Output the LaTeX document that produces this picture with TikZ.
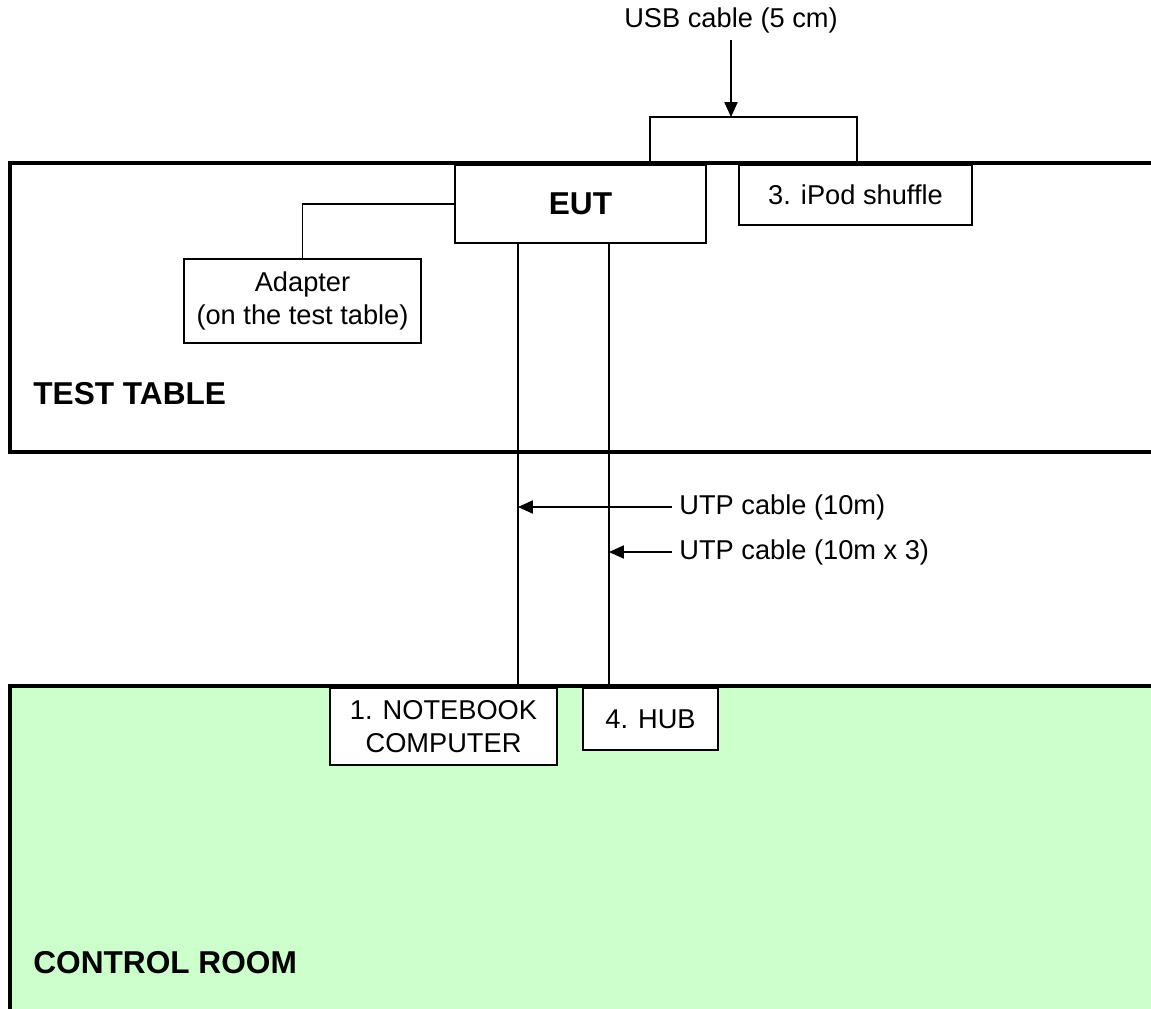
\documentclass[tikz,border=0pt]{standalone}
\usepackage{fontspec}
\setmainfont{Liberation Sans}
\usepackage{tikz}
\usetikzlibrary{arrows.meta, positioning, calc}
\usepackage{xcolor}
\definecolor{roomgreen}{HTML}{CCFFCC}
\tikzstyle{device} = [rectangle, draw=black, line width=0.9pt, fill=white, align=center,
    inner sep=2pt, font=\fontsize{15.5}{18.5}\selectfont]
\tikzstyle{region} = [line width=2.3pt]
\tikzstyle{cable} = [line width=0.9pt]
\tikzstyle{arrow} = [line width=0.9pt, -{Triangle[length=8.5pt, width=7.5pt]}]
\tikzstyle{lbl} = [font=\fontsize{15.5}{18.5}\selectfont, inner sep=4pt]
\tikzstyle{area} = [font=\fontsize{18}{21}\selectfont\bfseries, inner sep=0pt, anchor=west]

\begin{document}
\begin{tikzpicture}[x=0.02cm, y=-0.02cm]
\useasboundingbox (0,0) rectangle (1151,1008);
% rooms
\fill[roomgreen] (10,686) rectangle (1170,1020);
\draw[region] (1170,163) -- (10,163) -- (10,452) -- (1170,452);
\draw[region] (1170,686) -- (10,686) -- (10,1020);
\node (testtable) [area] at (33,394) {TEST TABLE};
\node (controlroom) [area] at (33,963) {CONTROL ROOM};

% devices on the test table
\node (eut) [device, minimum width=5.02cm, minimum height=1.56cm, font=\fontsize{18}{21}\selectfont\bfseries] at (580.5,204) {EUT};
\node (ipod) [device, minimum width=4.66cm, minimum height=1.2cm] at (855.5,195) {3. iPod shuffle};
\node (adapter) [device, minimum width=4.74cm, minimum height=1.68cm] at (302.5,301) {Adapter\\(on the test table)};
\node (usbplug) [device, minimum width=4.14cm, minimum height=0.92cm] at (753.5,140) {};
\draw[region] (650,163) -- (870,163);

% devices in the control room
\node (notebook) [device, minimum width=4.54cm, minimum height=1.54cm] at (443.5,726.5) {1. NOTEBOOK\\COMPUTER};
\node (hub) [device, minimum width=2.7cm, minimum height=1.24cm] at (650.5,719) {4. HUB};

% cables
\coordinate (nbline) at (518,0);
\coordinate (hubline) at (609,0);
\draw[cable] (eut.west) -| (adapter.north);
\draw[cable] (nbline |- eut.south) -- (nbline |- notebook.north);
\draw[cable] (hubline |- eut.south) -- (hubline |- hub.north);

% labels
\node (usblbl) [lbl] at (731,20) {USB cable (5 cm)};
\coordinate (usbin) at (731,117);
\draw[arrow] (usblbl) -- (usbin);
\node (utp1) [lbl, anchor=west] at (672,507) {UTP cable (10m)};
\node (utp3) [lbl, anchor=west] at (672,552) {UTP cable (10m x 3)};
\draw[arrow] (utp1.west) -- (utp1.west -| nbline);
\draw[arrow] (utp3.west) -- (utp3.west -| hubline);
\end{tikzpicture}
\end{document}
